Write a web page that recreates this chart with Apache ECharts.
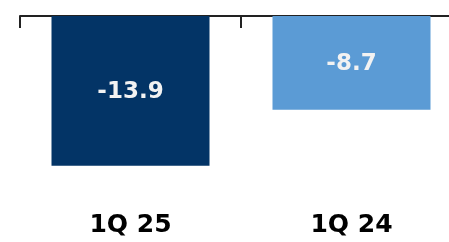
<!DOCTYPE html>
<html lang="en">
<head>
    <meta charset="UTF-8">
    <script src="https://cdn.jsdelivr.net/npm/echarts@6/dist/echarts.min.js"></script>
    <style>
        html, body { margin: 0; padding: 0; background: #fff; overflow: hidden; }
    </style>
</head>
<body>
    <!-- the axis runs past the right edge in the original, so the canvas is wider than the window -->
    <div id="main" style="width: 470px; height: 242px;"></div>
    <script>
        var categories = ['1Q 25', '1Q 24'];
        var values = [-13.9, -8.7];
        var barColors = ['#033466', '#5B9BD5'];

        var chart = echarts.init(document.getElementById('main'));

        chart.setOption({
            animation: false,
            grid: { left: 20, right: 8, top: 16, height: 194 },
            xAxis: [{
                type: 'category',
                data: categories,
                position: 'bottom',
                axisLine: { show: false },
                axisTick: { show: false },
                axisLabel: {
                    margin: 15,
                    verticalAlign: 'middle',
                    color: '#000',
                    fontFamily: 'DejaVu Sans',
                    fontWeight: 'bold',
                    fontSize: 25
                }
            }, {
                type: 'category',
                data: categories,
                position: 'top',
                axisLine: { show: true, lineStyle: { color: '#222', width: 2 } },
                axisTick: { show: true, inside: true, length: 12, lineStyle: { color: '#222', width: 2 } },
                axisLabel: { show: false }
            }],
            yAxis: {
                type: 'value',
                min: -18,
                max: 0,
                axisLine: { show: false },
                axisTick: { show: false },
                axisLabel: { show: false },
                splitLine: { show: false }
            },
            series: [{
                type: 'bar',
                xAxisIndex: 0,
                barWidth: 158,
                data: values.map(function (v, i) {
                    return { value: v, itemStyle: { color: barColors[i] } };
                }),
                label: {
                    show: true,
                    position: 'inside',
                    offset: [0, 1],
                    color: '#F2F2F2',
                    fontFamily: 'DejaVu Sans',
                    fontWeight: 'bold',
                    fontSize: 23
                }
            }]
        });
    </script>
</body>
</html>
